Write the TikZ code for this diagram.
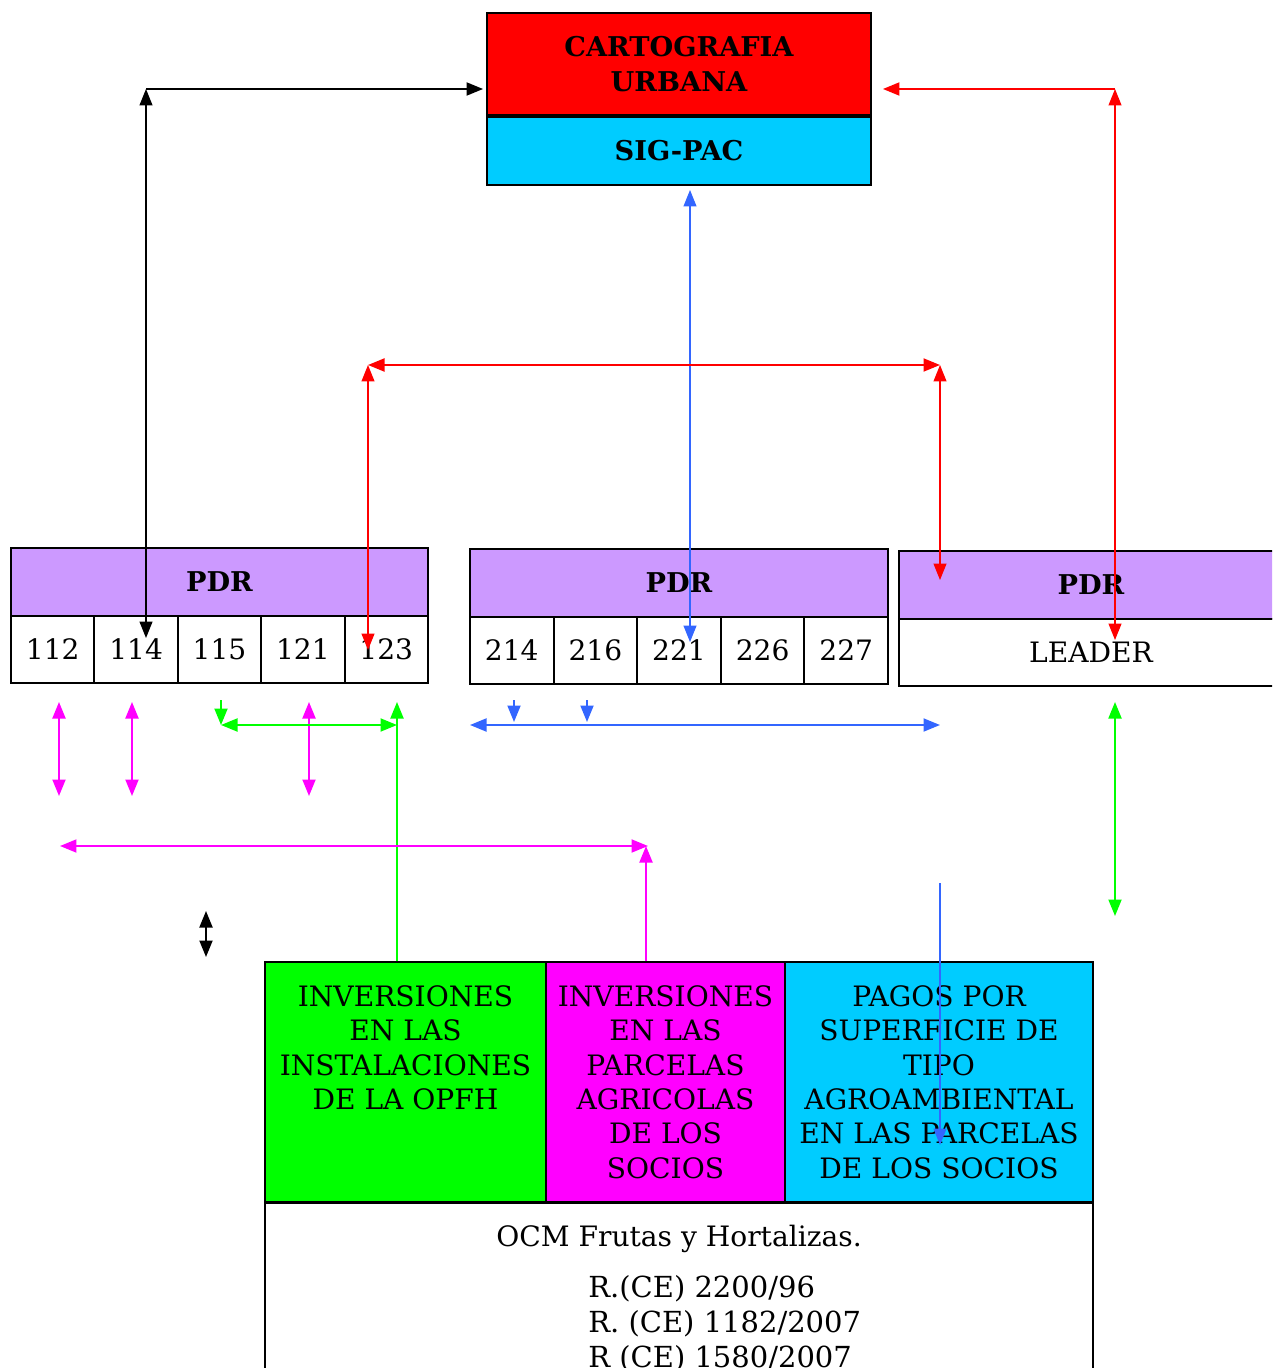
\documentclass[tikz,border=0pt]{standalone}
\usepackage{fontspec}
\setmainfont{DejaVu Serif}
\newfontfamily\negrfont{DejaVu Serif Bold}
\usetikzlibrary{arrows.meta,positioning}
\definecolor{rojo}{HTML}{FF0000}
\definecolor{celeste}{HTML}{00CCFF}
\definecolor{lila}{HTML}{CC99FF}
\definecolor{verde}{HTML}{00FF00}
\definecolor{fucsia}{HTML}{FF00FF}
\definecolor{azul}{HTML}{3366FF}
\newcommand\txt{\fontsize{16}{19.6}\selectfont}
\newcommand\negr{\negrfont\fontsize{15.5}{19.8}\selectfont}
\tikzset{
 caja/.style={draw,line width=1.1pt,inner sep=0pt,font=\txt},
 cab/.style={caja,fill=lila,minimum height=1.36cm,font=\negr},
 celda/.style={caja,fill=white,minimum height=1.34cm},
 texto/.style={anchor=north,align=center,inner sep=0pt,font=\txt},
 grueso/.style={line width=1.1pt},
 fino/.style={line width=0.7pt}
}
\begin{document}
\begin{tikzpicture}[x=0.02cm,y=-0.02cm,>={Triangle[length=0.33cm,width=0.26cm]}]
\useasboundingbox (0,0) rectangle (1272,1368);
\clip (0,0) rectangle (1272,1368);
% cartografia
\node[caja,fill=rojo,minimum width=7.68cm,minimum height=2.04cm,align=center,font=\negr] (cart) at (679,64) {CARTOGRAFIA\\URBANA};
\node[caja,fill=celeste,minimum width=7.68cm,minimum height=1.36cm,font=\negr,below=0pt of cart] (sig) {SIG-PAC};
% PDR
\node[cab,minimum width=8.34cm] (pdr1) at (219.5,582) {PDR};
\node[cab,minimum width=8.36cm] (pdr2) at (679,583) {PDR};
\node[cab,minimum width=7.68cm] (pdr3) at (1091,585) {PDR};
\foreach \n [count=\i] in {112,114,115,121,123}
 \node[celda,minimum width=1.668cm] (c\n) at ({11+83.4*(\i-.5)},649.5) {\n};
\foreach \n [count=\i] in {214,216,221,226,227}
 \node[celda,minimum width=1.672cm] (c\n) at ({470+83.6*(\i-.5)},650.5) {\n};
\node[celda,minimum width=7.68cm] (leader) at (1091,652.5) {LEADER};
% OCM
\node[caja,fill=verde,minimum width=5.62cm,minimum height=4.8cm] (opfh) at (405.5,1082) {};
\node[caja,fill=fucsia,minimum width=4.78cm,minimum height=4.8cm] (parc) at (665.5,1082) {};
\node[caja,fill=celeste,minimum width=6.16cm,minimum height=4.8cm] (pagos) at (939,1082) {};
\node[caja,fill=white,minimum width=16.56cm,minimum height=4.4cm,anchor=north] (ocm) at (679,1202) {};
\node[texto] (topfh) at (405.5,985) {INVERSIONES\\EN LAS\\INSTALACIONES\\DE LA OPFH};
\node[texto] (tparc) at (665.5,985) {INVERSIONES\\EN LAS\\PARCELAS\\AGRICOLAS\\DE LOS\\SOCIOS};
\node[texto] (tpagos) at (939,985) {PAGOS POR\\SUPERFICIE DE\\TIPO\\AGROAMBIENTAL\\EN LAS PARCELAS\\DE LOS SOCIOS};
\node[texto] (tocm) at (679,1225) {OCM Frutas y Hortalizas.};
\node[texto,anchor=north west,align=left,font=\fontsize{16.5}{20}\selectfont] (treg) at (588,1275) {R.(CE) 2200/96\\R. (CE) 1182/2007\\R (CE) 1580/2007};
% flechas superiores
\coordinate (k1) at (146,89); \coordinate (k2) at (146,638);
\draw[fino,<->] (k1) -- (k2);
\draw[grueso,->] (k1) -- ([xshift=-0.06cm]k1 -| cart.west);
\coordinate (r1) at (1115,89); \coordinate (r2) at (1115,640);
\draw[fino,rojo,<->] (r1) -- (r2);
\draw[grueso,rojo,->,shorten >=0.22cm] (r1) -- (r1 -| cart.east);
\coordinate (b1) at (690,190); \coordinate (b2) at (690,642);
\draw[fino,azul,<->] (b1) -- (b2);
\coordinate (m1) at (368,365); \coordinate (m2) at (940,365);
\coordinate (m3) at (368,650); \coordinate (m4) at (940,580);
\draw[grueso,rojo,<->] (m1) -- (m2);
\draw[fino,rojo,<->] (m1) -- (m3);
\draw[fino,rojo,<->] (m2) -- (m4);
% flechas inferiores
\foreach \x in {59,132,309} {
 \coordinate (fa\x) at (\x,702); \coordinate (fb\x) at (\x,796);
 \draw[grueso,fucsia,<->] (fa\x) -- (fb\x);}
\coordinate (g0) at (221,700); \coordinate (g1) at (221,725); \coordinate (g2) at (397,725);
\coordinate (g3) at (397,702);
\draw[grueso,verde,->] (g0) -- (g1);
\draw[grueso,verde,<->] (g1) -- (g2);
\draw[grueso,verde,->] (g3 |- opfh.north) -- (g3);
\foreach \x in {514,587} {
 \coordinate (az\x) at (\x,700); \coordinate (bz\x) at (\x,722);
 \draw[grueso,azul,->] (az\x) -- (bz\x);}
\coordinate (h1) at (470,725); \coordinate (h2) at (940,725);
\draw[grueso,azul,<->] (h1) -- (h2);
\coordinate (p1) at (60,846); \coordinate (p2) at (648,846); \coordinate (p3) at (646,846);
\draw[grueso,fucsia,<->] (p1) -- (p2);
\draw[grueso,fucsia,->] (p3 |- parc.north) -- (p3);
\coordinate (n1) at (206,911); \coordinate (n2) at (206,957);
\draw[grueso,<->] (n1) -- (n2);
\coordinate (v1) at (1115,702); \coordinate (v2) at (1115,916);
\draw[grueso,verde,<->] (v1) -- (v2);
\coordinate (s1) at (940,883); \coordinate (s2) at (940,1145);
\draw[fino,azul,->] (s1) -- (s2);
\end{tikzpicture}
\end{document}
